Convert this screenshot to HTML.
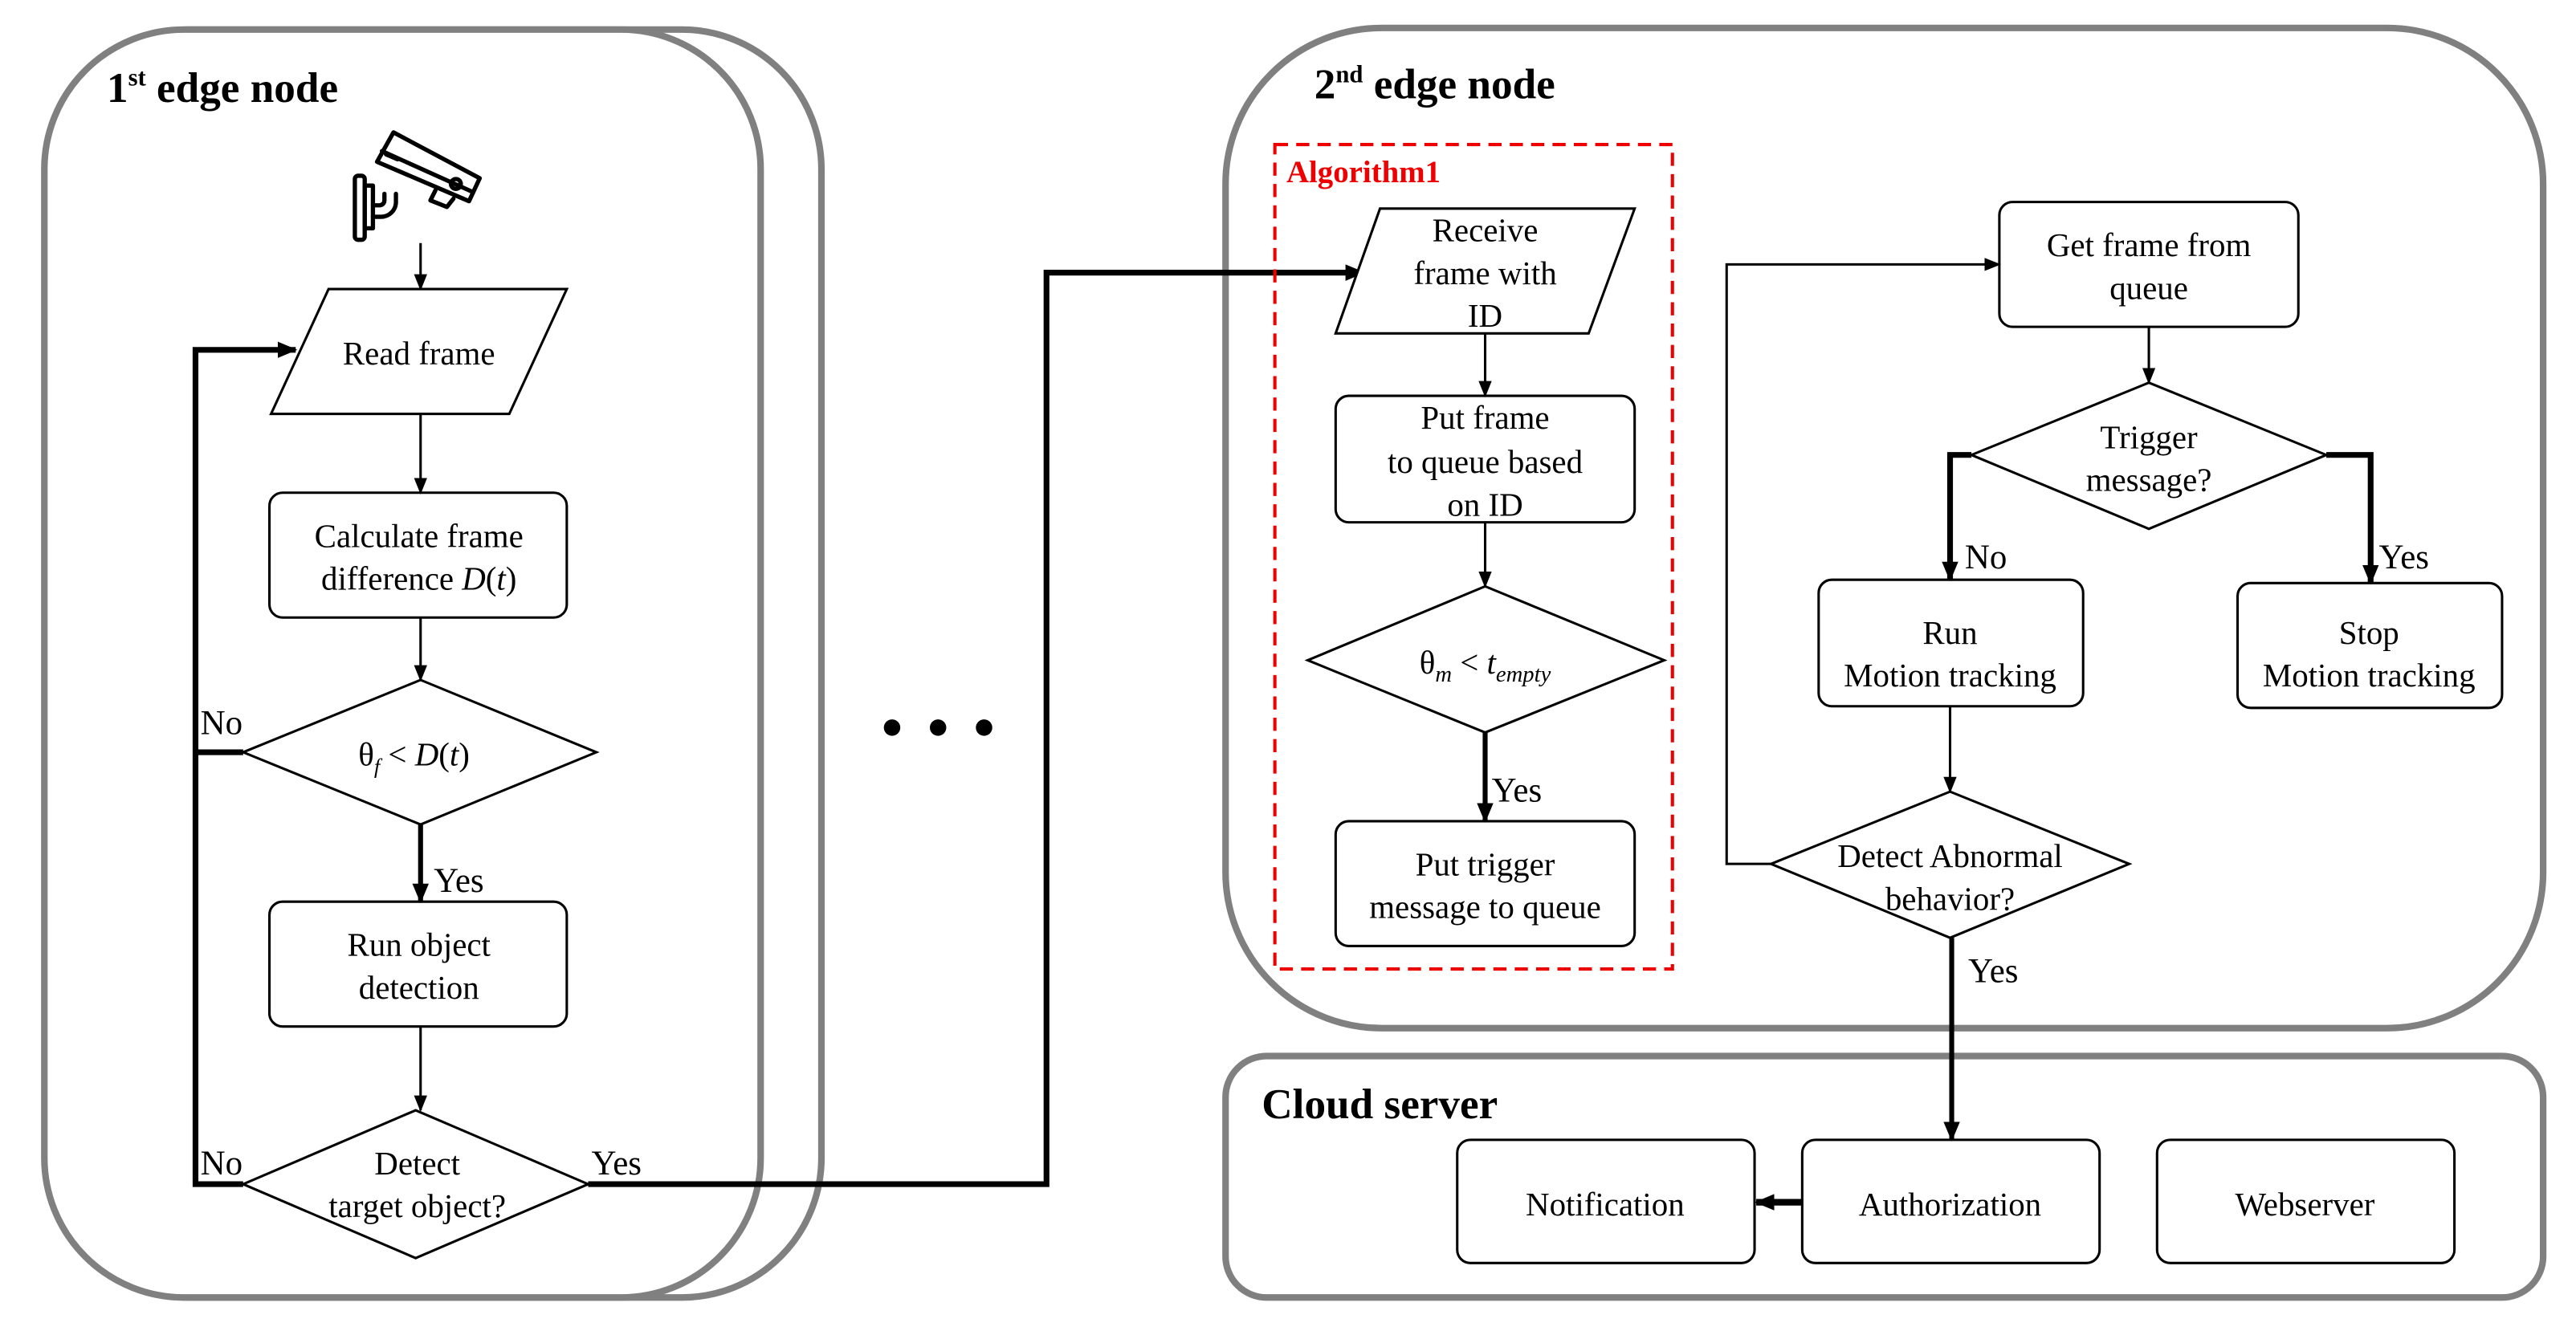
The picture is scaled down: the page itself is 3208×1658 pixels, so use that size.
<!DOCTYPE html>
<html><head><meta charset="utf-8"><style>
html,body{margin:0;padding:0;background:#fff;}
svg{display:block;font-family:"Liberation Serif","Times New Roman",serif;}
svg text{font-family:"Liberation Serif","Times New Roman",serif;}
</style></head><body>
<svg width="3208" height="1658" viewBox="0 0 1568 810.4" preserveAspectRatio="none" xmlns="http://www.w3.org/2000/svg" font-family="Liberation Serif, Times New Roman, serif">
<defs>
<marker id="a" markerWidth="10" markerHeight="10" refX="9" refY="5" orient="auto" markerUnits="userSpaceOnUse"><path d="M0,1 L10,5 L0,9 Z" fill="#000"/></marker>
<marker id="ab" markerWidth="12" markerHeight="12" refX="11" refY="6" orient="auto" markerUnits="userSpaceOnUse"><path d="M0,1 L12,6 L0,11 Z" fill="#000"/></marker>
</defs>
<g fill="none" stroke="#808080" stroke-width="4">
<rect x="30" y="18" width="470" height="772" rx="85"/>
<rect x="27" y="18" width="436" height="772" rx="85" fill="#fff"/>
<rect x="746" y="17" width="802" height="609" rx="95"/>
<rect x="746" y="643" width="802" height="147" rx="25"/>
</g>
<text x="65" y="62" font-size="26" font-weight="bold" font-family="Liberation Serif, serif">1<tspan font-size="15" dy="-10">st</tspan><tspan dy="10"> edge node</tspan></text>
<text x="800" y="60" font-size="26" font-weight="bold" font-family="Liberation Serif, serif">2<tspan font-size="15" dy="-10">nd</tspan><tspan dy="10">  edge node</tspan></text>
<text x="768" y="681" font-size="26" font-weight="bold" font-family="Liberation Serif, serif">Cloud server</text>
<!-- camera -->
<g fill="none" stroke="#000" stroke-width="2.6" stroke-linejoin="round" stroke-linecap="round">
<rect x="216" y="107" width="6" height="39" rx="2"/>
<rect x="222" y="113" width="5" height="26"/>
<path d="M227,132 h5 a9,9 0 0 0 9,-9 v-5"/>
<path d="M227,125 h4 a3,3 0 0 0 3,-3 v-4"/>
<polygon points="239.5,80.6 292,108.5 285.5,122.5 229.5,98.5"/>
<line x1="232.5" y1="92" x2="288" y2="117"/>
<line x1="235" y1="94" x2="242" y2="97"/>
<circle cx="277.5" cy="112" r="3"/>
<path d="M265,116 l-3,6 l10,4 l4,-5"/>
</g>
<line x1="256" y1="148" x2="256" y2="176" stroke="#000" stroke-width="1.5" marker-end="url(#a)"/>
<g fill="#fff" stroke="#000" stroke-width="1.5">
<polygon points="165,252 200,176 345,176 310,252"/>
<rect x="164" y="300" width="181" height="76" rx="8"/>
<polygon points="256,414 363,458 256,502 148,458"/>
<rect x="164" y="549" width="181" height="76" rx="8"/>
<polygon points="253,676 358,721 253,766 148,721"/>
</g>
<g font-size="20" text-anchor="middle" font-family="Liberation Serif, serif">
<text x="255" y="222">Read frame</text>
<text x="255" y="333">Calculate frame</text>
<text x="255" y="359">difference <tspan font-style="italic">D</tspan>(<tspan font-style="italic">t</tspan>)</text>
<text x="252" y="466">θ<tspan font-size="13" font-style="italic" dy="5">f</tspan><tspan dy="-5"> &lt; </tspan><tspan font-style="italic">D</tspan>(<tspan font-style="italic">t</tspan>)</text>
<text x="255" y="582">Run object</text>
<text x="255" y="608">detection</text>
<text x="254" y="715">Detect</text>
<text x="254" y="741">target object?</text>
</g>
<g stroke="#000" fill="none">
<line x1="256" y1="252" x2="256" y2="300" stroke-width="1.5" marker-end="url(#a)"/>
<line x1="256" y1="376" x2="256" y2="414" stroke-width="1.5" marker-end="url(#a)"/>
<line x1="256" y1="502" x2="256" y2="549" stroke-width="3" marker-end="url(#ab)"/>
<line x1="256" y1="625" x2="256" y2="676" stroke-width="1.5" marker-end="url(#a)"/>
<polyline points="148,721 119,721 119,213 180,213" stroke-width="3.5" marker-end="url(#ab)"/>
<line x1="148" y1="458" x2="119" y2="458" stroke-width="3.5"/>
<polyline points="358,721 637,721 637,166 830,166" stroke-width="3.5" marker-end="url(#ab)"/>
</g>
<g font-size="21" font-family="Liberation Serif, serif">
<text x="122" y="447">No</text>
<text x="122" y="715">No</text>
<text x="264" y="543">Yes</text>
<text x="360" y="715">Yes</text>
</g>
<circle cx="543" cy="443" r="5"/><circle cx="571" cy="443" r="5"/><circle cx="599" cy="443" r="5"/>
<rect x="776" y="88" width="242" height="502" fill="none" stroke="#e00" stroke-width="2" stroke-dasharray="8,5"/>
<text x="783" y="111" font-size="19" font-weight="bold" fill="#e00" font-family="Liberation Serif, serif">Algorithm1</text>
<g fill="#fff" stroke="#000" stroke-width="1.5">
<polygon points="813,203 840,127 995,127 967,203"/>
<rect x="813" y="241" width="182" height="77" rx="8"/>
<polygon points="904,357 1013,402 904,446 796,402"/>
<rect x="813" y="500" width="182" height="76" rx="8"/>
<rect x="1217" y="123" width="182" height="76" rx="8"/>
<polygon points="1308,233 1416,277 1308,322 1200,277"/>
<rect x="1107" y="353" width="161" height="77" rx="8"/>
<rect x="1362" y="355" width="161" height="76" rx="8"/>
<polygon points="1187,482 1296,526 1187,571 1078,526"/>
<rect x="887" y="694" width="181" height="75" rx="8"/>
<rect x="1097" y="694" width="181" height="75" rx="8"/>
<rect x="1313" y="694" width="181" height="75" rx="8"/>
</g>
<g font-size="20" text-anchor="middle" font-family="Liberation Serif, serif">
<text x="904" y="147">Receive</text>
<text x="904" y="173">frame with</text>
<text x="904" y="199">ID</text>
<text x="904" y="261">Put frame</text>
<text x="904" y="288">to queue based</text>
<text x="904" y="314">on ID</text>
<text x="904" y="410">θ<tspan font-size="14" font-style="italic" dy="5">m</tspan><tspan dy="-5"> &lt; </tspan><tspan font-style="italic">t</tspan><tspan font-size="14" font-style="italic" dy="5">empty</tspan></text>
<text x="904" y="533">Put trigger</text>
<text x="904" y="559">message to queue</text>
<text x="1308" y="156">Get frame from</text>
<text x="1308" y="182">queue</text>
<text x="1308" y="273">Trigger</text>
<text x="1308" y="299">message?</text>
<text x="1187" y="392">Run</text>
<text x="1187" y="418">Motion tracking</text>
<text x="1442" y="392">Stop</text>
<text x="1442" y="418">Motion tracking</text>
<text x="1187" y="528">Detect Abnormal</text>
<text x="1187" y="554">behavior?</text>
<text x="977" y="740">Notification</text>
<text x="1187" y="740">Authorization</text>
<text x="1403" y="740">Webserver</text>
</g>
<g stroke="#000" fill="none">
<line x1="904" y1="203" x2="904" y2="241" stroke-width="1.5" marker-end="url(#a)"/>
<line x1="904" y1="318" x2="904" y2="357" stroke-width="1.5" marker-end="url(#a)"/>
<line x1="904" y1="446" x2="904" y2="500" stroke-width="3" marker-end="url(#ab)"/>
<line x1="1308" y1="199" x2="1308" y2="233" stroke-width="1.5" marker-end="url(#a)"/>
<polyline points="1200,277 1187,277 1187,353" stroke-width="3.5" marker-end="url(#ab)"/>
<polyline points="1416,277 1443,277 1443,355" stroke-width="3.5" marker-end="url(#ab)"/>
<line x1="1187" y1="430" x2="1187" y2="482" stroke-width="1.5" marker-end="url(#a)"/>
<polyline points="1078,526 1051,526 1051,161 1217,161" stroke-width="1.5" marker-end="url(#a)"/>
<line x1="1188" y1="571" x2="1188" y2="694" stroke-width="3" marker-end="url(#ab)"/>
<line x1="1097" y1="732" x2="1069" y2="732" stroke-width="4" marker-end="url(#ab)"/>
</g>
<g font-size="21" font-family="Liberation Serif, serif">
<text x="908" y="488">Yes</text>
<text x="1196" y="346">No</text>
<text x="1448" y="346">Yes</text>
<text x="1198" y="598">Yes</text>
</g>
</svg>
</body></html>
